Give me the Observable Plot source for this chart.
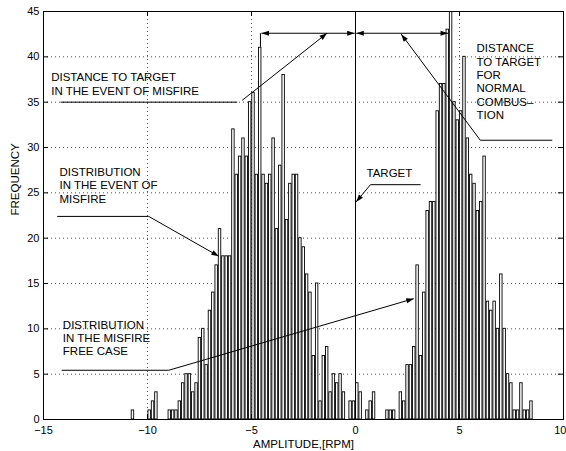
<!DOCTYPE html>
<html>
<head>
<meta charset="utf-8">
<script src="https://cdn.jsdelivr.net/npm/d3@7"></script>
<script src="https://cdn.jsdelivr.net/npm/@observablehq/plot@0.6"></script>
<style>
  html, body { margin: 0; padding: 0; background: #fff; }
  #chart svg { display: block; }
</style>
</head>
<body>
<div id="chart"></div>
<script>
// Histogram of crank speed fluctuation amplitude (RPM): misfire vs. misfire-free operation.
const binStart = -10.78;   // left edge of the first bin (RPM)
const binWidth = 0.161;    // bin width (RPM)
const counts = [
  1, 0, 0, 0, 0, 1, 2, 3, 0, 0,
  0, 1, 1, 1, 2, 4, 5, 5, 3, 4,
  9, 10, 6, 12, 14, 17, 21, 18, 18, 18,
  32, 27, 29, 31, 29, 35, 36, 27, 41, 27,
  26, 27, 31, 21, 28, 38, 22, 26, 27, 27,
  20, 19, 16, 14, 7, 15, 2, 7, 8, 3,
  5, 4, 5, 3, 0, 2, 2, 4, 3, 0,
  1, 2, 3, 0, 0, 0, 1, 1, 1, 0,
  3, 2, 6, 6, 8, 17, 7, 14, 23, 24,
  24, 34, 37, 37, 43, 46, 35, 33, 34, 40,
  31, 27, 26, 23, 24, 29, 13, 12, 13, 10,
  16, 10, 5, 4, 1, 1, 4, 1, 1, 2
];

const xTicks = [-15, -10, -5, 0, 5, 10];
const yTicks = [0, 5, 10, 15, 20, 25, 30, 35, 40, 45];

// Annotation texts, anchored at the baseline of their last line (data units)
const noteTexts = [
  "DISTANCE TO TARGET\nIN THE EVENT OF MISFIRE",
  "DISTRIBUTION\nIN THE EVENT OF\nMISFIRE",
  "TARGET",
  "DISTRIBUTION\nIN THE MISFIRE\nFREE CASE",
  "DISTANCE\nTO TARGET\nFOR\nNORMAL\nCOMBUS\u2013\nTION"
];
const noteX = [-14.63, -14.23, 0.53, -14.07, 5.82];
const noteY = [35.83, 23.9, 26.7, 7.08, 33.15];

// Leader lines [x1, y1, x2, y2, head] where head is "none", "end" or "both"
const leaders = [
  [-14.18, 35.0, -5.69, 35.0, "none"],
  [-5.45, 35.2, -1.37, 42.6, "end"],
  [-4.52, 42.6, -0.04, 42.6, "both"],
  [0.04, 42.6, 4.45, 42.6, "both"],
  [-4.57, 41.1, -4.57, 42.6, "none"],
  [9.46, 30.8, 6.0, 30.8, "none"],
  [6.0, 30.8, 2.2, 42.5, "end"],
  [-14.34, 22.4, -9.94, 22.4, "none"],
  [-9.94, 22.4, -6.57, 18.0, "end"],
  [3.13, 25.9, 0.72, 25.9, "none"],
  [0.72, 25.9, 0.03, 24.0, "end"],
  [-14.13, 5.43, -8.98, 5.43, "none"],
  [-8.98, 5.43, 2.8, 13.33, "end"]
];

const width = 566, height = 451;
const margin = {top: 11, right: 3, bottom: 32, left: 43};
const xDomain = [-15, 10], yDomain = [0, 45];
const kx = (width - margin.left - margin.right) / (xDomain[1] - xDomain[0]);
const ky = (height - margin.top - margin.bottom) / (yDomain[1] - yDomain[0]);
const tickLen = 5;

const bins = counts
  .map((c, i) => ({x1: binStart + i * binWidth, x2: binStart + (i + 1) * binWidth, count: c}))
  .filter(d => d.count > 0);

const notes = noteTexts.map((t, i) => ({text: t, x: noteX[i], y: noteY[i]}));

// Filled arrowheads: the tip sits at the point, rotated along the segment on screen
const headAt = (x, y, fx, fy) => ({
  x, y, angle: Math.atan2(-(y - fy) * ky, (x - fx) * kx) * 180 / Math.PI
});
const heads = [];
for (const [x1, y1, x2, y2, h] of leaders) {
  if (h === "end" || h === "both") heads.push(headAt(x2, y2, x1, y1));
  if (h === "both") heads.push(headAt(x1, y1, x2, y2));
}
const arrowHead = {
  draw(ctx) {
    ctx.moveTo(0, 0);
    ctx.lineTo(-7.5, -2.6);
    ctx.lineTo(-7.5, 2.6);
    ctx.closePath();
  }
};

const fmt = d => (d < 0 ? "\u2212" + Math.abs(d) : String(d));
const lastX = xTicks[xTicks.length - 1];

const chart = Plot.plot({
  width, height,
  marginTop: margin.top, marginRight: margin.right,
  marginBottom: margin.bottom, marginLeft: margin.left,
  style: {fontFamily: "'Liberation Sans', Arial, Helvetica, sans-serif", fontSize: "11px", color: "black", background: "white"},
  x: {domain: xDomain, label: null},
  y: {domain: yDomain, label: null},
  marks: [
    Plot.gridY(yTicks.filter(v => v > yDomain[0] && v < yDomain[1]),
      {stroke: "black", strokeOpacity: 0.7, strokeDasharray: "1,3"}),
    Plot.gridX(xTicks.filter(v => v > xDomain[0] && v < xDomain[1] && v !== 0),
      {stroke: "black", strokeOpacity: 0.7, strokeDasharray: "1,3"}),
    Plot.rectY(bins, {
      x1: "x1", x2: "x2", y: "count",
      fill: "white", stroke: "black", strokeWidth: 0.9,
      insetLeft: 0.45, insetRight: 0.45, clip: true
    }),
    // the target line
    Plot.ruleX([0], {stroke: "black", strokeWidth: 1}),
    // inward ticks on all four sides
    Plot.ruleY(yTicks, {y: d => d, x1: xDomain[0], x2: xDomain[0] + tickLen / kx, stroke: "black"}),
    Plot.ruleY(yTicks, {y: d => d, x1: xDomain[1], x2: xDomain[1] - tickLen / kx, stroke: "black"}),
    Plot.ruleX(xTicks, {x: d => d, y1: yDomain[0], y2: yDomain[0] + tickLen / ky, stroke: "black"}),
    Plot.ruleX(xTicks, {x: d => d, y1: yDomain[1], y2: yDomain[1] - tickLen / ky, stroke: "black"}),
    Plot.axisY(yTicks, {tickSize: 0, tickPadding: 4, tickFormat: fmt, label: null, fontSize: 11}),
    Plot.axisX(xTicks.slice(0, -1), {tickSize: 0, tickPadding: 7, tickFormat: fmt, label: null, fontSize: 11}),
    // the last tick label sits at the right edge; keep it inside the canvas
    Plot.axisX([lastX], {tickSize: 0, tickPadding: 7, tickFormat: fmt, label: null, fontSize: 11, textAnchor: "end", dx: 3}),
    Plot.text(["AMPLITUDE,[RPM]"], {text: d => d, frameAnchor: "bottom", dy: 28, lineAnchor: "bottom", fontSize: 11.5}),
    Plot.text(["FREQUENCY"], {text: d => d, frameAnchor: "left", rotate: -90, dx: -25, lineAnchor: "bottom", fontSize: 11.5}),
    // annotations
    Plot.link(leaders, {x1: d => d[0], y1: d => d[1], x2: d => d[2], y2: d => d[3], stroke: "black", strokeWidth: 1}),
    Plot.dot(heads, {x: "x", y: "y", rotate: "angle", symbol: arrowHead, r: 4, fill: "black", stroke: "none"}),
    Plot.text(notes, {x: "x", y: "y", text: "text", textAnchor: "start", lineAnchor: "bottom", lineHeight: 1.16, fontSize: 11.5, fill: "black"}),
    Plot.frame({stroke: "black", strokeWidth: 1})
  ]
});
document.getElementById("chart").append(chart);
</script>
</body>
</html>
